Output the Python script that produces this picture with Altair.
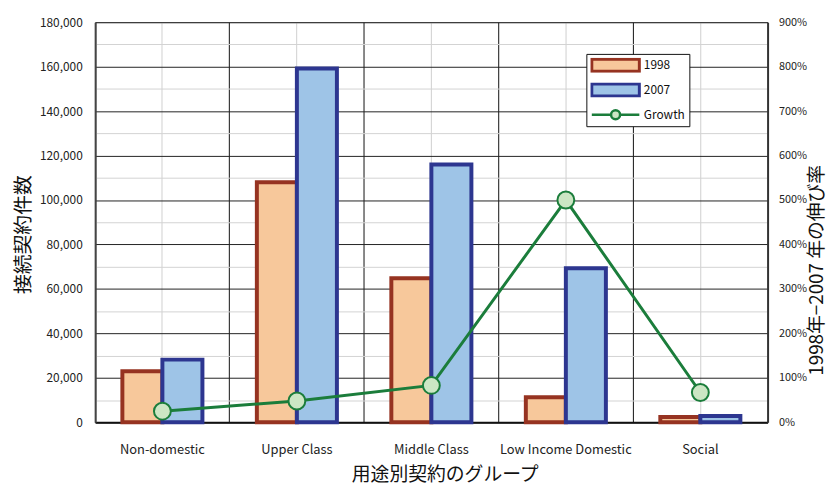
import altair as alt
import pandas as pd

categories = ["Non-domestic", "Upper Class", "Middle Class", "Low Income Domestic", "Social"]
v1998 = [23000, 108000, 64800, 11300, 2400]
v2007 = [28200, 159200, 116000, 69300, 2800]
growth = [25, 48, 83, 500, 67]
series = ["1998", "2007", "Growth"]
left_ticks = list(range(0, 180001, 10000))
right_ticks = list(range(0, 901, 100))

FONT = "Noto Sans CJK JP"
C98_FILL, C98_STROKE = "#F7C89B", "#963321"
C07_FILL, C07_STROKE = "#9EC4E7", "#2D3690"
G_LINE, G_FILL = "#1B7D3B", "#CCE6C4"

bars = pd.DataFrame({
    "cat": categories * 2,
    "series": ["1998"] * len(categories) + ["2007"] * len(categories),
    "value": v1998 + v2007,
})
gdf = pd.DataFrame({"cat": categories, "growth": growth})

x_scale = alt.Scale(domain=categories, paddingInner=0, paddingOuter=0)

bar_x_axis = alt.Axis(orient="bottom", title=None, labels=False, ticks=False, tickSize=0,
                      grid=True, bandPosition=0, gridColor="#111", gridWidth=1,
                      domain=True, domainColor="#111", domainWidth=2)
line_x_axis = alt.Axis(orient="bottom", title="用途別契約のグループ", ticks=False, tickSize=0,
                       grid=True, bandPosition=0.5, gridColor="#cfcfcf", gridWidth=1,
                       domain=False, labelPadding=22, labelFont=FONT, labelFontSize=13,
                       labelColor="#222", labelAngle=0,
                       titleFont=FONT, titleFontSize=19, titleFontWeight="normal",
                       titleColor="#111", titleX=353, titleY=53,
                       titleAlign="center", titleBaseline="middle")

left_axis = alt.Axis(orient="left", values=left_ticks,
                     labelExpr="datum.value % 20000 === 0 ? format(datum.value, ',') : ''",
                     grid=True,
                     gridColor={"condition": {"test": "datum.value % 20000 === 0", "value": "#222"},
                                "value": "#d2d2d2"},
                     gridWidth=1, ticks=False, tickSize=0, labelPadding=13,
                     domain=True, domainColor="#444", domainWidth=2,
                     labelFont=FONT, labelFontSize=12, labelColor="#222",
                     title="接続契約件数", titleFont=FONT, titleFontSize=20,
                     titleFontWeight="normal", titleColor="#111", titleAngle=270,
                     titleX=-72, titleY=214, titleAlign="center", titleBaseline="middle")

right_axis = alt.Axis(orient="right", values=right_ticks, labelExpr="datum.value + '%'",
                      grid=False, ticks=False, tickSize=0, labelPadding=11,
                      domain=True, domainColor="#333", domainWidth=2,
                      labelFont=FONT, labelFontSize=11, labelColor="#222",
                      title="1998年−2007 年の伸び率", titleFont=FONT, titleFontSize=19,
                      titleFontWeight="normal", titleColor="#111", titleAngle=270,
                      titleX=49, titleY=250, titleAlign="center", titleBaseline="middle")

bar_path = "M-1,-0.25L1,-0.25L1,0.25L-1,0.25Z"
growth_path = ("M-1,0L-0.19,0M0.19,0L1,0M-0.19,0A0.19,0.19 0 1,0 0.19,0"
               "A0.19,0.19 0 1,0 -0.19,0Z")

legend = alt.Legend(
    title=None, orient="none", legendX=496, legendY=32,
    symbolSize=2304, labelOffset=3, rowPadding=10, padding=4, clipHeight=15,
    strokeColor="#111", fillColor="white", cornerRadius=0,
    labelFont=FONT, labelFontSize=12, labelColor="#111",
    symbolType={"expr": f"(datum.value === 'Growth' ? '{growth_path}' : '{bar_path}')"},
    symbolStrokeColor={"expr": f"(datum.value === '1998' ? '{C98_STROKE}' : "
                               f"(datum.value === '2007' ? '{C07_STROKE}' : '{G_LINE}'))"},
    symbolStrokeWidth={"expr": "(datum.value === 'Growth' ? 2.5 : 3)"},
    symbolOpacity=1,
)

bar_layer = alt.Chart(bars).mark_bar(strokeWidth=4, opacity=1, fillOpacity=1).encode(
    x=alt.X("cat:N", scale=x_scale, sort=categories, axis=bar_x_axis),
    xOffset=alt.XOffset("series:N", sort=["1998", "2007"],
                        scale=alt.Scale(domain=["1998", "2007"], paddingInner=0, paddingOuter=0.68)),
    y=alt.Y("value:Q", scale=alt.Scale(domain=[0, 180000], nice=False, zero=True), axis=left_axis),
    fill=alt.Fill("series:N", scale=alt.Scale(domain=series, range=[C98_FILL, C07_FILL, G_FILL]),
                  legend=legend),
    stroke=alt.Stroke("series:N", scale=alt.Scale(domain=["1998", "2007"],
                                                  range=[C98_STROKE, C07_STROKE]), legend=None),
)

gy = alt.Y("growth:Q", scale=alt.Scale(domain=[0, 900], nice=False, zero=True), axis=right_axis)
gx = alt.X("cat:N", scale=x_scale, sort=categories, axis=line_x_axis)

line = alt.Chart(gdf).mark_line(color=G_LINE, strokeWidth=3).encode(x=gx, y=gy)
pts = alt.Chart(gdf).mark_point(filled=True, fill=G_FILL, stroke=G_LINE, strokeWidth=2,
                                size=290, opacity=1, fillOpacity=1).encode(x=gx, y=gy)
growth_layer = alt.layer(line, pts)

chart = alt.layer(bar_layer, growth_layer).resolve_scale(
    y="independent"
).resolve_axis(
    x="independent"
).properties(
    width=679, height=404,
    autosize=alt.AutoSizeParams(type="none"),
    padding={"left": 88, "top": 12, "right": 61, "bottom": 65},
    background="white",
).configure_view(stroke="#999", strokeWidth=1)

chart.save("out.html", embed_options={"renderer": "svg", "actions": False})
